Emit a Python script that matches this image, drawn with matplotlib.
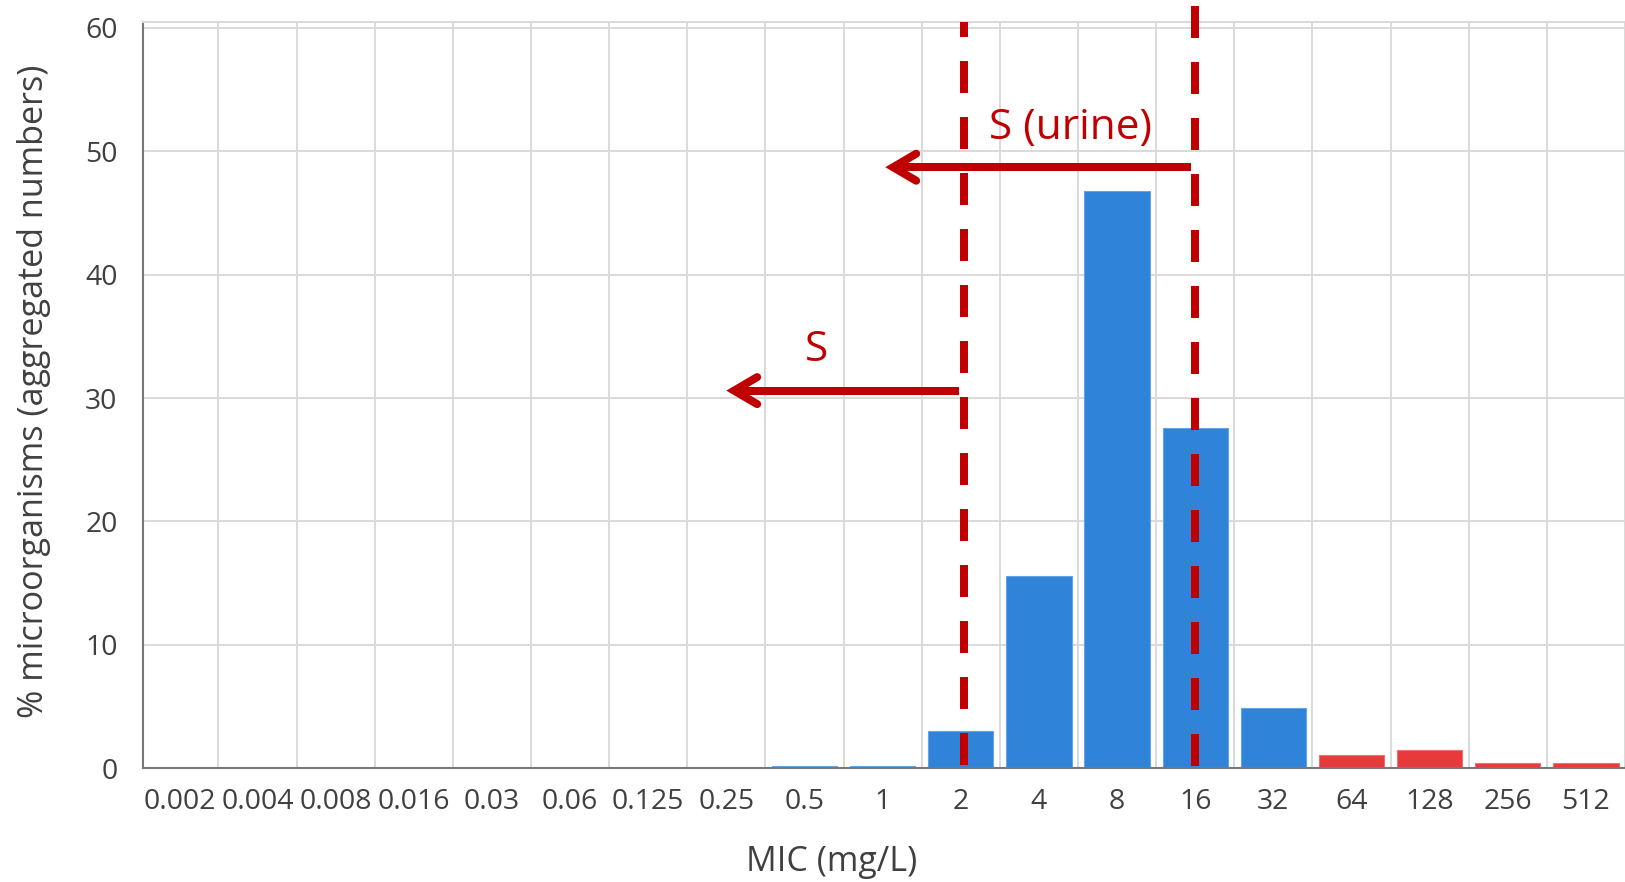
import matplotlib
matplotlib.use("Agg")
import matplotlib.pyplot as plt
import numpy as np

# ---- data ----
mic_labels = ["0.002", "0.004", "0.008", "0.016", "0.03", "0.06", "0.125", "0.25",
              "0.5", "1", "2", "4", "8", "16", "32", "64", "128", "256", "512"]
pct_values = [0, 0, 0, 0, 0, 0, 0, 0,
              0.2, 0.2, 3.0, 15.6, 46.8, 27.6, 4.9, 1.1, 1.5, 0.4, 0.4]
ecoff_label = "32"            # bars above this MIC are red
bp_s = "2"                    # S breakpoint
bp_s_urine = "16"             # S (urine) breakpoint
arrow_s = ("0.25", 30.6)      # arrow tip category / height
arrow_urine = ("1", 48.7)

BLUE = "#2F84D9"
RED = "#E83A3A"
DARK_RED = "#C00000"
GRID = "#D9D9D9"
TXT = "#404040"
FONT = ["Open Sans", "DejaVu Sans"]
plt.rcParams["font.family"] = FONT

W, H = 1625, 882
fig = plt.figure(figsize=(W / 100, H / 100), dpi=100)
x0_px, y0_px, ytop_px = 142.6, 768.3, 21.7
ax = fig.add_axes([x0_px / W, (H - y0_px) / H, 1 - x0_px / W, (y0_px - ytop_px) / H])

n = len(mic_labels)
x = np.arange(n)
ecoff_idx = mic_labels.index(ecoff_label)
colors = [BLUE if i <= ecoff_idx else RED for i in range(n)]
edges = ["#63A3E6" if i <= ecoff_idx else "#F07070" for i in range(n)]
ax.bar(x, pct_values, width=0.835, color=colors, edgecolor=edges, linewidth=0.8, zorder=2)

ax.set_xlim(-0.47, 18.35)
ax.set_ylim(0, 60.49)

ax.set_xticks(x)
ax.set_xticklabels(mic_labels)
ax.set_xticks(np.arange(n) + 0.5, minor=True)
ax.set_yticks(np.arange(0, 61, 10))
ax.tick_params(axis="x", which="both", length=0, labelsize=20.4, labelcolor=TXT, pad=14)
ax.tick_params(axis="y", length=0, labelsize=20.4, labelcolor=TXT, pad=18)
ax.grid(False)
ax.grid(axis="x", which="minor", color=GRID, lw=1.4, zorder=0)
ax.grid(axis="y", which="major", color=GRID, lw=1.4, zorder=0)
ax.set_axisbelow(True)

for s in ["left", "bottom"]:
    ax.spines[s].set_color("#777777")
    ax.spines[s].set_linewidth(1.5)
ax.spines["bottom"].set_zorder(3)
ax.spines["top"].set_color(GRID)
ax.spines["top"].set_linewidth(1.4)
ax.spines["right"].set_visible(False)

fig.text(832 / W, 1 - 862 / H, "MIC (mg/L)", ha="center", va="center",
         fontsize=24.5, color=TXT)
fig.text(34 / W, 1 - 391 / H, "% microorganisms (aggregated numbers)", ha="center",
         va="center", rotation=90, fontsize=24.6, color=TXT)

# ---- breakpoint dashed lines ----
lw_px = 8
lw_pt = lw_px * 72 / 100
ix_s = mic_labels.index(bp_s)
ix_u = mic_labels.index(bp_s_urine)
ax.plot([ix_s + 0.035, ix_s + 0.035], [0.25, 60.49], color=DARK_RED, lw=lw_pt,
        dashes=(4, 3), dash_capstyle="butt", zorder=4, clip_on=False)
ax.plot([ix_u, ix_u], [0.2, 61.75], color=DARK_RED, lw=lw_pt, dashes=(4, 3),
        dash_capstyle="butt", zorder=4, clip_on=False)

# ---- arrows ----
def draw_arrow(x_start, x_tip, y):
    ax.plot([x_start, x_tip], [y, y], color=DARK_RED, lw=lw_pt,
            solid_capstyle="butt", zorder=5, clip_on=False)
    tip = ax.transData.transform((x_tip, y))
    a1 = ax.transData.inverted().transform(tip + np.array([23, 13.5]))
    a2 = ax.transData.inverted().transform(tip + np.array([23, -13.5]))
    ax.plot([a1[0], x_tip, a2[0]], [a1[1], y, a2[1]], color=DARK_RED, lw=lw_pt,
            solid_capstyle="round", solid_joinstyle="miter", zorder=5, clip_on=False)

draw_arrow(ix_s - 0.02, mic_labels.index(arrow_s[0]) + 0.10, arrow_s[1])
draw_arrow(ix_u - 0.05, mic_labels.index(arrow_urine[0]) + 0.135, arrow_urine[1])

ax.text(8.15, 33.9, "S", ha="center", va="center", fontsize=30.5, color=DARK_RED, zorder=6)
ax.text(11.41, 51.9, "S (urine)", ha="center", va="center", fontsize=30.4,
        color=DARK_RED, zorder=6)

fig.savefig("out.png", dpi=100)
